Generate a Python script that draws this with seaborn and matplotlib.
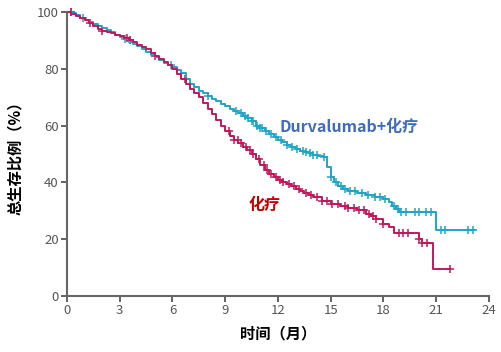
import numpy as np
import pandas as pd
import matplotlib
matplotlib.use("Agg")
import matplotlib.pyplot as plt
import seaborn as sns

# KM step points (months, % surviving)
durva_t = [0, 0.25, 0.5, 0.75, 1.0, 1.25, 1.5, 1.75, 2.0, 2.25, 2.5, 2.75, 3.0, 3.25, 3.5, 3.75,
           4.0, 4.25, 4.5, 4.75, 5.0, 5.25, 5.5, 5.75, 6.0, 6.25, 6.5, 6.75, 7.0, 7.25, 7.5, 7.75,
           8.0, 8.25, 8.5, 8.75, 9.0, 9.25, 9.5, 9.75, 10.0, 10.25, 10.5, 10.75, 11.0, 11.25, 11.5,
           11.75, 12.0, 12.25, 12.5, 12.75, 13.0, 13.25, 13.5, 13.75, 14.0, 14.3, 14.6, 14.8, 15.0,
           15.2, 15.4, 15.7, 16.0, 16.5, 17.0, 17.5, 18.0, 18.3, 18.5, 18.7, 18.9, 21.0, 23.2]
durva_s = [100, 99.5, 98.8, 98, 97.2, 96.5, 95.6, 95, 94.2, 93.5, 92.8, 92, 91.3, 90.5, 89.5, 88.8,
           88, 87, 86, 85, 84, 83, 82, 81.3, 80.6, 79.6, 78.5, 76.5, 74.8, 73.5, 72.3, 71.3,
           70.5, 69.5, 68.5, 67.6, 66.8, 66, 65.3, 64.3, 63.3, 62.5, 61.5, 60, 59, 58, 57,
           56, 55, 54.2, 53.3, 52.5, 51.8, 51.2, 50.7, 50.2, 49.8, 49.4, 48.8, 45.5, 42,
           40, 38.8, 37.8, 37.0, 36.2, 35.6, 35, 34.2, 33, 31.8, 30.6, 29.6, 23.2, 23.2]
chemo_t = [0, 0.25, 0.5, 0.75, 1.0, 1.25, 1.5, 1.75, 2.0, 2.25, 2.5, 2.75, 3.0, 3.25, 3.5, 3.75,
           4.0, 4.25, 4.5, 4.75, 5.0, 5.25, 5.5, 5.75, 6.0, 6.25, 6.5, 6.75, 7.0, 7.25, 7.5, 7.75,
           8.0, 8.25, 8.5, 8.75, 9.0, 9.25, 9.5, 9.75, 10.0, 10.25, 10.5, 10.75, 11.0, 11.25, 11.5,
           11.75, 12.0, 12.25, 12.5, 12.75, 13.0, 13.25, 13.5, 13.75, 14.0, 14.5, 15.0, 15.5, 16.0,
           16.5, 17.0, 17.3, 17.6, 18.0, 18.3, 18.6, 20.0, 20.2, 20.8, 21.8]
chemo_s = [100, 99.3, 98.6, 97.8, 97, 96, 95, 94, 93.2, 92.8, 92.5, 92, 91.4, 90.8, 90.2, 89.3,
           88.5, 87.6, 86.8, 85.6, 84.5, 83.5, 82.5, 81.3, 80, 78.3, 76.5, 74.8, 73, 71.5, 70, 68,
           66, 64, 62, 60, 58, 56.5, 55, 53.8, 52.5, 51.3, 50, 48.2, 46.3, 44.2, 42.8,
           41.8, 41, 40.2, 39.4, 38.6, 37.8, 37, 36.2, 35.5, 34.8, 33.6, 32.5, 31.8, 31,
           30.2, 29, 28, 27, 25.5, 24.3, 22.2, 20.2, 18.8, 9.5, 9.5]

# censor times
durva_c = [0.2, 0.9, 3.3, 5.9, 8.0, 9.6, 9.9, 10.1, 10.3, 10.5, 10.6, 10.8, 11.0, 11.1, 11.3, 11.6,
           11.9, 12.2, 12.5, 12.8, 13.1, 13.4, 13.6, 13.8, 14.0, 14.2, 14.6, 15.0, 15.3, 15.6, 15.8,
           16.1, 16.4, 16.8, 17.1, 17.5, 17.8, 18.1, 18.6, 18.8, 19.0, 19.3, 19.8, 20.0, 20.4, 20.7,
           21.3, 21.5, 22.8, 23.1]
chemo_c = [0.2, 1.3, 2.0, 3.4, 3.6, 5.0, 6.7, 9.2, 9.5, 9.7, 9.9, 10.2, 10.4, 10.6, 10.9, 11.2,
           11.4, 11.6, 11.9, 12.1, 12.3, 12.6, 12.9, 13.2, 13.6, 13.9, 14.2, 14.5, 14.8, 15.1, 15.4,
           15.8, 16.0, 16.3, 16.6, 16.9, 17.2, 17.4, 17.6, 18.0, 18.9, 19.1, 19.4, 20.0, 20.2, 20.5,
           21.8]

xticks = [0, 3, 6, 9, 12, 15, 18, 21, 24]
yticks = [0, 20, 40, 60, 80, 100]

teal = "#1fa5c6"
red = "#c2185b"

sns.set_style("ticks")
plt.rcParams['font.family'] = ['Noto Sans CJK SC', 'DejaVu Sans']


def step_at(t, s, c):
    t = np.asarray(t); s = np.asarray(s)
    idx = np.searchsorted(t, c, side='right') - 1
    return s[idx]


fig = plt.figure(figsize=(5.02, 3.52), dpi=100)
ax = fig.add_axes([0.1335, 0.159, 0.8405, 0.807])

for t, s, c, col in [(durva_t, durva_s, durva_c, teal), (chemo_t, chemo_s, chemo_c, red)]:
    sns.lineplot(x=t, y=s, ax=ax, color=col, lw=1.4, drawstyle='steps-post',
                 estimator=None, sort=False, clip_on=False)
    cs = pd.DataFrame({'t': c, 's': step_at(t, s, c)})
    sns.scatterplot(data=cs, x='t', y='s', ax=ax, marker='+', s=40, color=col,
                    linewidth=1.1, clip_on=False)

ax.set_xlim(0, 24)
ax.set_ylim(0, 100)
ax.set_xticks(xticks)
ax.set_yticks(yticks)
ax.tick_params(colors='#555555', labelsize=9.5, length=4, width=1.3, pad=2)
for sp in ['left', 'bottom']:
    ax.spines[sp].set_color('#666666')
    ax.spines[sp].set_linewidth(1.5)
sns.despine(ax=ax)

ax.set_xlabel('时间（月）', fontsize=11, fontweight='bold', color='black', labelpad=6)
ax.set_ylabel('总生存比例（%）', fontsize=11, fontweight='bold', color='black', labelpad=10)

ax.text(12.1, 59.5, 'Durvalumab+化疗', color='#3f6cc2', fontsize=11.5, fontweight='bold',
        va='center', ha='left')
ax.text(10.3, 32, '化疗', color='#c00000', fontsize=11.5, fontweight='bold',
        va='center', ha='left')

fig.savefig('out.png', dpi=100, facecolor='white')
